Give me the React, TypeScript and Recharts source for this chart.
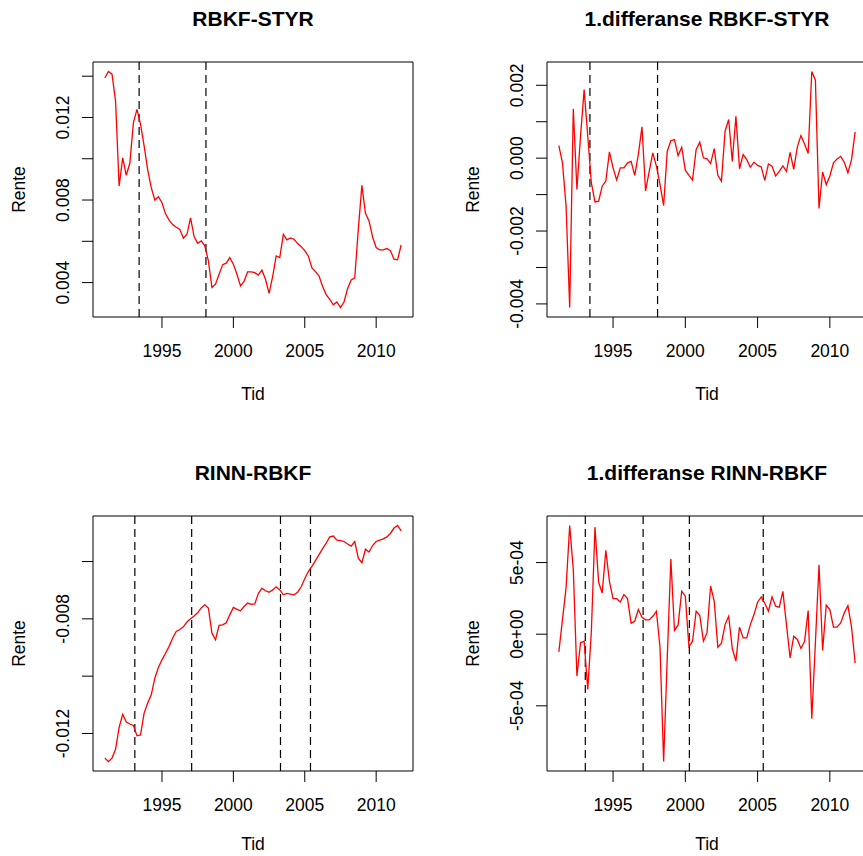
import { LineChart, Line, XAxis, YAxis, ReferenceLine, ReferenceArea } from "recharts";

const FONT = '"Liberation Sans", Arial, Helvetica, sans-serif';
const RED = "#FF0000";
const INK = "#000";

// kvartalsdata, nivå fra 1991K1, differanser fra 1991K2
const START_LEVEL = 1991;
const START_DIFF = 1991.25;

const rbkfStyr = [
  0.01391, 0.01423, 0.0141, 0.0128, 0.00868, 0.01004, 0.0092, 0.00978, 0.01175, 0.01239,
  0.01167, 0.01062, 0.00946, 0.0086, 0.008, 0.00816, 0.00787, 0.00733, 0.00703, 0.00681,
  0.00668, 0.00658, 0.00615, 0.00634, 0.00713, 0.00623, 0.0059, 0.00602, 0.00578, 0.00505,
  0.00376, 0.00392, 0.0044, 0.00487, 0.00494, 0.00521, 0.00489, 0.0044, 0.00384, 0.00406,
  0.00452, 0.00452, 0.00448, 0.00436, 0.0046, 0.00416, 0.00348, 0.00429, 0.00529, 0.00521,
  0.00634, 0.00607, 0.00616, 0.0061, 0.00589, 0.00574, 0.00555, 0.00529, 0.00471, 0.00453,
  0.00432, 0.00381, 0.00342, 0.00319, 0.00292, 0.00306, 0.00279, 0.00306, 0.00371, 0.00413,
  0.00423, 0.00658, 0.00871, 0.00736, 0.00699, 0.00621, 0.0057, 0.00558, 0.00558, 0.00565,
  0.00555, 0.00513, 0.0051, 0.00582,
];

const rbkfStyrDiff = [
  0.000347, -0.000128, -0.001315, -0.0041, 0.001352, -0.000858, 0.000603, 0.00188, 0.0006, -0.00068,
  -0.0012, -0.00118, -0.00077, -0.00063, 0.000174, -0.000265, -0.0006, -0.000265, -0.000265, -0.000128,
  -0.00009, -0.00047, 0.0001, 0.00086, -0.0009, -0.00036, 0.000146, -0.00022, -0.00072, -0.0013,
  0.00019, 0.00048, 0.00051, 0.00007, 0.0003, -0.00033, -0.00047, -0.0006, 0.00024, 0.00044,
  0.00001, -0.00002, -0.00015, 0.00026, -0.00047, -0.00063, 0.00074, 0.00106, -0.00009, 0.00115,
  -0.00029, 0.0001, -0.00004, -0.00025, -0.00011, -0.0002, -0.00024, -0.00061, -0.00016, -0.00022,
  -0.00049, -0.00036, -0.00021, -0.00036, 0.00016, -0.00031, 0.00031, 0.00062, 0.00039, 0.00013,
  0.00238, 0.00214, -0.00138, -0.00038, -0.00073, -0.00049, -0.00013, -0.00002, 0.00005, -0.00011,
  -0.0004, -0.00004, 0.00072,
];

const rinnRbkf = [
  -0.01286, -0.01298, -0.01286, -0.01255, -0.01179, -0.01133, -0.0116, -0.01167, -0.01172, -0.01208,
  -0.01205, -0.01129, -0.01094, -0.01065, -0.01007, -0.0097, -0.00943, -0.0092, -0.00896, -0.00867,
  -0.00844, -0.00837, -0.00828, -0.00811, -0.008, -0.0079, -0.00779, -0.00762, -0.00751, -0.00762,
  -0.0085, -0.00873, -0.00823, -0.00821, -0.00814, -0.00786, -0.0076, -0.00767, -0.00772, -0.00757,
  -0.00745, -0.00749, -0.00748, -0.00712, -0.00693, -0.00702, -0.00707, -0.00699, -0.00688, -0.00699,
  -0.00716, -0.00711, -0.00714, -0.00716, -0.00707, -0.00688, -0.0066, -0.00635, -0.00617, -0.00597,
  -0.00576, -0.00555, -0.00536, -0.00514, -0.00511, -0.00525, -0.00527, -0.0053, -0.00539, -0.00546,
  -0.0053, -0.00588, -0.00604, -0.00557, -0.00567, -0.00544, -0.0053, -0.00525, -0.00521, -0.00514,
  -0.00502, -0.00483, -0.00474, -0.00493,
];

const rinnRbkfDiff = [
  -0.000123, 0.000102, 0.000323, 0.000759, 0.00045, -0.000292, -0.00006, -0.000049, -0.000385, 0.000021,
  0.000747, 0.000362, 0.000288, 0.000585, 0.000369, 0.000248, 0.000248, 0.000225, 0.000276, 0.000248,
  0.000077, 0.00009, 0.000172, 0.000118, 0.0001, 0.0001, 0.000125, 0.00016, -0.000095, -0.000889,
  -0.000165, 0.000525, 0.000026, 0.000063, 0.0003, 0.000265, -0.000088, -0.000049, 0.00016, 0.000132,
  -0.000049, 0.000009, 0.000336, 0.00023, -0.000091, -0.000063, 0.000067, 0.000125, -0.0001, -0.000188,
  0.000049, -0.000026, -0.000026, 0.000067, 0.000137, 0.000223, 0.00026, 0.000216, 0.00016, 0.00026,
  0.000195, 0.000188, 0.000299, 0.000063, -0.000165, -0.000014, -0.000037, -0.0001, -0.000049, 0.000165,
  -0.00059, -0.00006, 0.000485, -0.000114, 0.000202, 0.000172, 0.000049, 0.000049, 0.000079, 0.000149,
  0.0002, 0.000049, -0.000202,
];

// strukturbrudd (stiplede linjer)
const breaksStyr = [1993.4, 1998.08];
const breaksRinn = [1993.1, 1997.08, 2003.3, 2005.4];
const breaksRinnDiff = [1993.08, 1997.08, 2000.28, 2005.39];

const yearTicks = [1995, 2000, 2005, 2010];

const ticksStyr = [0.004, 0.006, 0.008, 0.01, 0.012, 0.014];
const labelsStyr = ["0.004", "", "0.008", "", "0.012", ""];
const ticksStyrDiff = [-0.004, -0.003, -0.002, -0.001, 0, 0.001, 0.002];
const labelsStyrDiff = ["-0.004", "", "-0.002", "", "0.000", "", "0.002"];
const ticksRinn = [-0.012, -0.01, -0.008, -0.006];
const labelsRinn = ["-0.012", "", "-0.008", ""];
const ticksRinnDiff = [-0.0005, 0, 0.0005];
const labelsRinnDiff = ["-5e-04", "0e+00", "5e-04"];

// panel geometry (R par(mfrow=c(2,2)) look)
const PW = 431;
const PH = 454;
const BOX_TOP = 62;
const BOX_LEFT = 93;
const BOX_RIGHT = 18;
const BOX_BOTTOM = 317;
const FS = 17.5;

function padded(vals: number[]): [number, number] {
  const lo = Math.min(...vals);
  const hi = Math.max(...vals);
  const d = (hi - lo) * 0.04;
  return [lo - d, hi + d];
}

function RotTick(props: any) {
  const { x, y, payload, ticks, labels } = props;
  const idx = ticks.findIndex((t: number) => Math.abs(t - payload.value) < 1e-9);
  const label = idx >= 0 ? labels[idx] : "";
  if (!label) return <g />;
  return (
    <text
      x={x}
      y={y}
      transform={`rotate(-90 ${x} ${y})`}
      textAnchor="middle"
      fontSize={FS}
      fontFamily={FONT}
      fill={INK}
    >
      {label}
    </text>
  );
}

function Panel({
  left,
  top,
  title,
  values,
  start,
  breaks,
  ticks,
  labels,
  tidY,
}: {
  left: number;
  top: number;
  title: string;
  values: number[];
  start: number;
  breaks: number[];
  ticks: number[];
  labels: string[];
  tidY: number;
}) {
  const data = values.map((v, i) => ({ t: start + i / 4, v }));
  const xd = padded(data.map((d) => d.t));
  const yd = padded(values);
  const cx = BOX_LEFT + (PW - BOX_LEFT - BOX_RIGHT) / 2;
  const cy = (BOX_TOP + BOX_BOTTOM) / 2;

  return (
    <div style={{ position: "absolute", left, top, width: PW, height: PH }}>
      <LineChart
        width={PW}
        height={PH}
        data={data}
        margin={{ top: BOX_TOP, right: BOX_RIGHT, left: 0, bottom: 0 }}
      >
        <XAxis
          dataKey="t"
          type="number"
          domain={xd}
          allowDataOverflow
          ticks={yearTicks}
          interval={0}
          height={PH - BOX_BOTTOM}
          axisLine={false}
          tickLine={{ stroke: INK }}
          tickSize={11}
          tickMargin={16.6}
          tick={{ fontSize: FS, fill: INK, fontFamily: FONT }}
        />
        <YAxis
          type="number"
          domain={yd}
          allowDataOverflow
          ticks={ticks}
          interval={0}
          width={BOX_LEFT}
          axisLine={false}
          tickLine={{ stroke: INK }}
          tickSize={11}
          tickMargin={12.7}
          tick={(p: any) => <RotTick {...p} ticks={ticks} labels={labels} />}
        />
        {breaks.map((b) => (
          <ReferenceLine key={b} x={b} stroke={INK} strokeWidth={1.2} strokeDasharray="8 5" />
        ))}
        <Line
          dataKey="v"
          type="linear"
          stroke={RED}
          strokeWidth={1.3}
          dot={false}
          activeDot={false}
          isAnimationActive={false}
        />
        <ReferenceArea
          x1={xd[0]}
          x2={xd[1]}
          y1={yd[0]}
          y2={yd[1]}
          fill="none"
          fillOpacity={0}
          stroke={INK}
          strokeWidth={1}
          strokeOpacity={1}
          ifOverflow="visible"
        />
      </LineChart>
      <svg
        width={PW}
        height={PH}
        style={{ position: "absolute", left: 0, top: 0, pointerEvents: "none", overflow: "visible" }}
      >
        <text x={cx} y={26} textAnchor="middle" fontSize={21} fontWeight="bold" fontFamily={FONT} fill={INK}>
          {title}
        </text>
        <text x={cx} y={tidY} textAnchor="middle" fontSize={FS} fontFamily={FONT} fill={INK}>
          Tid
        </text>
        <text
          transform={`translate(24.5 ${cy}) rotate(-90)`}
          textAnchor="middle"
          fontSize={FS}
          fontFamily={FONT}
          fill={INK}
        >
          Rente
        </text>
      </svg>
    </div>
  );
}

export default function App() {
  return (
    <div
      style={{
        position: "absolute",
        left: 0,
        top: 0,
        width: 863,
        height: 856,
        overflow: "hidden",
        background: "#fff",
      }}
    >
      <Panel
        left={0}
        top={0}
        title="RBKF-STYR"
        values={rbkfStyr}
        start={START_LEVEL}
        breaks={breaksStyr}
        ticks={ticksStyr}
        labels={labelsStyr}
        tidY={400}
      />
      <Panel
        left={453.7}
        top={0}
        title="1.differanse RBKF-STYR"
        values={rbkfStyrDiff}
        start={START_DIFF}
        breaks={breaksStyr}
        ticks={ticksStyrDiff}
        labels={labelsStyrDiff}
        tidY={400}
      />
      <Panel
        left={0}
        top={454}
        title="RINN-RBKF"
        values={rinnRbkf}
        start={START_LEVEL}
        breaks={breaksRinn}
        ticks={ticksRinn}
        labels={labelsRinn}
        tidY={396}
      />
      <Panel
        left={453.7}
        top={454}
        title="1.differanse RINN-RBKF"
        values={rinnRbkfDiff}
        start={START_DIFF}
        breaks={breaksRinnDiff}
        ticks={ticksRinnDiff}
        labels={labelsRinnDiff}
        tidY={396}
      />
    </div>
  );
}
